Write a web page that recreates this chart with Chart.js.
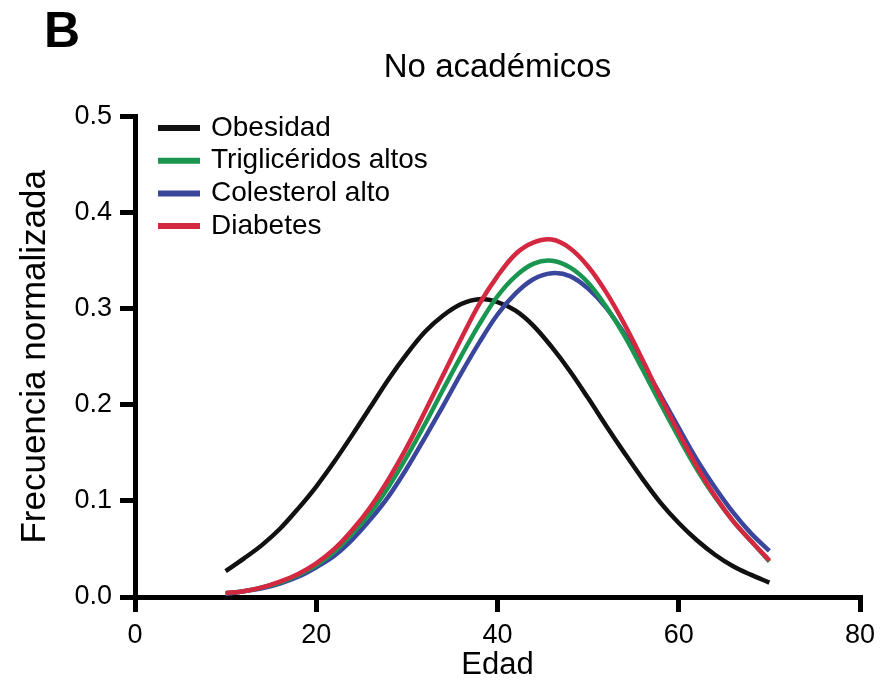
<!DOCTYPE html>
<html>
<head>
<meta charset="utf-8">
<script src="https://cdn.jsdelivr.net/npm/chart.js@4"></script>
<style>
  html, body { margin: 0; padding: 0; background: #fff; }
  canvas { display: block; }
</style>
</head>
<body>
<canvas id="chart" width="889" height="684"></canvas>
<script>
/* Frecuencia normalizada por edad — No académicos (panel B) */

var edad = [10, 12, 14, 16, 18, 20, 22, 24, 26, 28, 30, 32, 34, 36, 38, 40,
            42, 44, 46, 48, 50, 52, 54, 56, 58, 60, 62, 64, 66, 68, 70];

var obesidad = [0.027, 0.040, 0.054, 0.071, 0.092, 0.115, 0.141, 0.169, 0.198, 0.227, 0.253,
                0.276, 0.293, 0.305, 0.310, 0.307, 0.298, 0.282, 0.260, 0.235, 0.207,
                0.178, 0.150, 0.123, 0.098, 0.077, 0.059, 0.044, 0.032, 0.023, 0.015];

var trigliceridos = [0.004, 0.006, 0.010, 0.015, 0.023, 0.033, 0.047, 0.066, 0.088, 0.115, 0.146,
                     0.180, 0.216, 0.251, 0.284, 0.313, 0.334, 0.347, 0.350, 0.343, 0.327,
                     0.302, 0.272, 0.237, 0.201, 0.166, 0.133, 0.104, 0.079, 0.058, 0.037];

var colesterol = [0.003, 0.006, 0.009, 0.014, 0.021, 0.031, 0.043, 0.060, 0.081, 0.105, 0.134,
                  0.166, 0.199, 0.233, 0.265, 0.294, 0.316, 0.331, 0.337, 0.334, 0.321,
                  0.301, 0.274, 0.243, 0.210, 0.176, 0.143, 0.114, 0.088, 0.066, 0.048];

var diabetes = [0.004, 0.006, 0.010, 0.016, 0.024, 0.035, 0.050, 0.070, 0.094, 0.123, 0.156,
                0.193, 0.231, 0.269, 0.305, 0.334, 0.357, 0.369, 0.372, 0.363, 0.344,
                0.317, 0.284, 0.247, 0.208, 0.171, 0.136, 0.105, 0.079, 0.058, 0.038];

var nombres = ['Obesidad', 'Triglicéridos altos', 'Colesterol alto', 'Diabetes'];
var ticksX = [0, 20, 40, 60, 80];
var ticksY = [0.0, 0.1, 0.2, 0.3, 0.4, 0.5];

var FUENTE = '"Liberation Sans", Arial, Helvetica, sans-serif';
Chart.defaults.font.family = FUENTE;
Chart.defaults.color = '#000';

function puntos(valores) {
  return edad.map(function(e, i) { return { x: e, y: valores[i] }; });
}

function serie(label, valores, color, orden) {
  return {
    label: label, data: puntos(valores),
    borderColor: color, backgroundColor: color,
    borderWidth: 4.5, pointRadius: 0, fill: false,
    tension: 0.35, order: orden
  };
}

// "B" y la leyenda dentro del área del gráfico
var textos = {
  id: 'textos',
  afterDraw: function(chart) {
    var ctx = chart.ctx;
    ctx.save();
    ctx.fillStyle = '#000';
    ctx.textAlign = 'left';
    ctx.textBaseline = 'alphabetic';
    ctx.font = 'bold 50px ' + FUENTE;
    ctx.fillText('B', 44, 47);

    ctx.font = '28px ' + FUENTE;
    ctx.textBaseline = 'middle';
    chart.data.datasets.forEach(function(ds, i) {
      var y = 128 + i * 32.7;
      ctx.strokeStyle = ds.borderColor;
      ctx.lineWidth = 6;
      ctx.beginPath();
      ctx.moveTo(158, y);
      ctx.lineTo(200, y);
      ctx.stroke();
      ctx.fillText(ds.label, 211, y);
    });
    ctx.restore();
  }
};

new Chart(document.getElementById('chart'), {
  type: 'line',
  data: {
    datasets: [
      serie(nombres[0], obesidad, '#111111', 3),
      serie(nombres[1], trigliceridos, '#1a9650', 1),
      serie(nombres[2], colesterol, '#3a469c', 2),
      serie(nombres[3], diabetes, '#d3283f', 0)
    ]
  },
  options: {
    responsive: false,
    animation: false,
    layout: { padding: { left: 0, right: 29, top: 0, bottom: 0 } },
    plugins: {
      legend: { display: false },
      tooltip: { enabled: false },
      title: {
        display: true, text: 'No académicos', fullSize: false,
        font: { size: 33, weight: 'normal' }, color: '#000',
        padding: { top: 48, bottom: 29 }
      }
    },
    scales: {
      x: {
        type: 'linear', min: 0, max: 80,
        afterBuildTicks: function(s) { s.ticks = ticksX.map(function(v) { return { value: v }; }); },
        afterFit: function(s) { s.height = 87; },
        grid: { display: true, drawOnChartArea: false, drawTicks: true, tickLength: 15, lineWidth: 5, color: '#000' },
        border: { display: true, width: 5, color: '#000' },
        ticks: { font: { size: 27 }, color: '#000', padding: 7, maxRotation: 0 },
        title: { display: true, text: 'Edad', font: { size: 31 }, color: '#000', padding: { top: 0, bottom: 0 } }
      },
      y: {
        min: 0, max: 0.5,
        afterBuildTicks: function(s) { s.ticks = ticksY.map(function(v) { return { value: v }; }); },
        afterFit: function(s) { s.width = 135; },
        grid: { display: true, drawOnChartArea: false, drawTicks: true, tickLength: 15, lineWidth: 5, color: '#000' },
        border: { display: true, width: 5, color: '#000' },
        ticks: { font: { size: 27 }, color: '#000', padding: 8,
                 callback: function(v) { return v.toFixed(1); } },
        title: { display: true, text: 'Frecuencia normalizada', font: { size: 35 }, color: '#000', padding: { top: 14, bottom: 14 } }
      }
    }
  },
  plugins: [textos]
});
</script>
</body>
</html>
